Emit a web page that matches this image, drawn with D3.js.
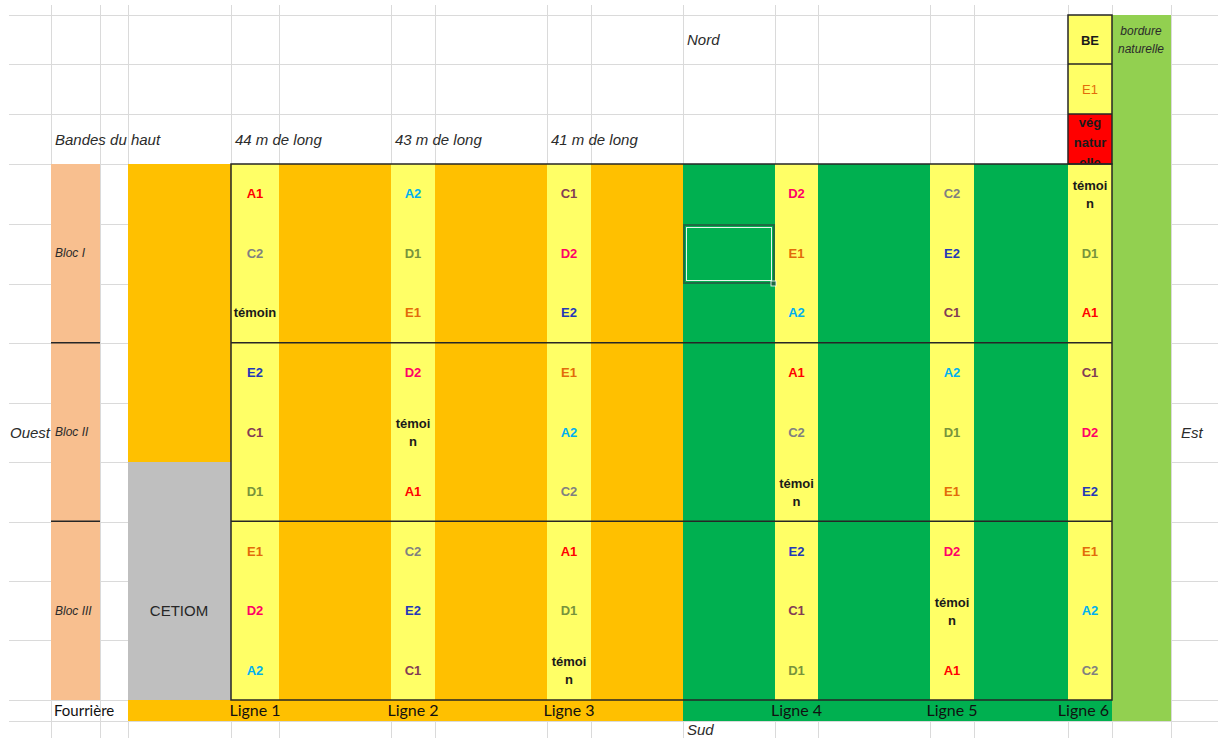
<!DOCTYPE html>
<html>
<head>
<meta charset="utf-8">
<script src="https://cdn.jsdelivr.net/npm/d3@7"></script>
<style>
  body { margin: 0; background: #fff; }
  svg { display: block; }
</style>
</head>
<body>
<div id="plan"></div>
<script>
// Data
const lignes = ["Ligne 1", "Ligne 2", "Ligne 3", "Ligne 4", "Ligne 5", "Ligne 6"]
const longueurs = ["44 m de long", "43 m de long", "41 m de long"]
const blocs = ["Bloc I", "Bloc II", "Bloc III"]
// 9 placettes par ligne, du nord au sud
const ligne1 = ["A1", "C2", "témoin", "E2", "C1", "D1", "E1", "D2", "A2"]
const ligne2 = ["A2", "D1", "E1", "D2", "témoin", "A1", "C2", "E2", "C1"]
const ligne3 = ["C1", "D2", "E2", "E1", "A2", "C2", "A1", "D1", "témoin"]
const ligne4 = ["D2", "E1", "A2", "A1", "C2", "témoin", "E2", "C1", "D1"]
const ligne5 = ["C2", "E2", "C1", "A2", "D1", "E1", "D2", "témoin", "A1"]
const ligne6 = ["témoin", "D1", "A1", "C1", "D2", "E2", "E1", "A2", "C2"]
const codes = ["A1", "A2", "C1", "C2", "D1", "D2", "E1", "E2", "témoin"]
const codeColors = ["#ff0000", "#00b0f0", "#833c55", "#808080", "#77933c", "#ff0066", "#e26b0a", "#2338b8", "#1a1a1a"]
const bordureEst = ["BE", "E1", "vég natur elle"]

const grid = [ligne1, ligne2, ligne3, ligne4, ligne5, ligne6]

// Layout (spreadsheet geometry)
const W = 1218, H = 738
const colEdges = [9, 51, 100, 128, 231, 279, 391, 435, 547, 591, 683, 775, 818, 930, 974, 1068, 1112, 1171]
const rowEdges = [15, 64, 114, 164, 224, 284, 343, 403, 462, 522, 581, 640, 700, 721]
const stripLeft = [231, 391, 547, 775, 930, 1068]
const stripRight = [279, 435, 591, 818, 974, 1112]

const x = d3.scaleOrdinal().domain(lignes).range(stripLeft)
const xEnd = d3.scaleOrdinal().domain(lignes).range(stripRight)
const y = d3.scaleBand().domain(d3.range(9)).range([164, 700])
const yBloc = d3.scaleBand().domain(blocs).range([164, 700])
const color = d3.scaleOrdinal().domain(codes).range(codeColors)

const svg = d3.select("#plan")
    .append("svg")
    .attr("width", W)
    .attr("height", H)

// Gridlines
const gridG = svg.append("g").attr("stroke", "#dadada").attr("stroke-width", 1)
gridG.selectAll("line.v")
    .data(colEdges.slice(1))
    .join("line")
    .attr("x1", d => d + 0.5).attr("x2", d => d + 0.5)
    .attr("y1", 5).attr("y2", H)
gridG.selectAll("line.h")
    .data(rowEdges)
    .join("line")
    .attr("x1", 9).attr("x2", W)
    .attr("y1", d => d + 0.5).attr("y2", d => d + 0.5)

const fills = svg.append("g")
function cell(x0, y0, x1, y1, fill) {
    return fills.append("rect")
        .attr("x", x0).attr("y", y0)
        .attr("width", x1 - x0).attr("height", y1 - y0)
        .attr("fill", fill)
}

// Blocs column, bande du haut, CETIOM
cell(51, 164, 100, 700, "#f8bf8f")
cell(128, 164, 231, 462, "#ffc000")
cell(128, 462, 231, 700, "#bfbfbf")

// Main plot
cell(231, 164, 683, 700, "#ffc000")
cell(683, 164, 1112, 700, "#00b050")
cell(128, 700, 683, 721, "#ffc000")
cell(683, 700, 1112, 721, "#00b050")
cell(1112, 15, 1171, 721, "#92d050")

lignes.forEach(l => cell(x(l), 164, xEnd(l), 700, "#ffff66"))

// Bordure est (haut de la ligne 6)
cell(1068, 15, 1112, 64, "#ffff66")
cell(1068, 64, 1112, 114, "#ffff66")
cell(1068, 114, 1112, 164, "#ff0000")

// Borders
const borders = svg.append("g").attr("stroke", "#262626").attr("fill", "none").attr("stroke-width", 1.5)
borders.append("rect").attr("x", 231).attr("y", 164).attr("width", 881).attr("height", 536)
borders.append("rect").attr("x", 1068).attr("y", 15).attr("width", 44).attr("height", 149)
borders.selectAll("line.tb")
    .data([64, 114])
    .join("line")
    .attr("x1", 1068).attr("x2", 1112)
    .attr("y1", d => d).attr("y2", d => d)
borders.selectAll("line.bloc")
    .data(blocs.slice(1))
    .join("line")
    .attr("x1", 231).attr("x2", 1112)
    .attr("y1", d => yBloc(d)).attr("y2", d => yBloc(d))
borders.selectAll("line.blocl")
    .data(blocs.slice(1))
    .join("line")
    .attr("x1", 51).attr("x2", 100)
    .attr("y1", d => yBloc(d)).attr("y2", d => yBloc(d))

// Selected cell (Excel)
svg.append("rect").attr("x", 684).attr("y", 225).attr("width", 90).attr("height", 58)
    .attr("fill", "none").attr("stroke", "#1e6b44").attr("stroke-width", 2)
svg.append("rect").attr("x", 686.5).attr("y", 227.5).attr("width", 85).attr("height", 53)
    .attr("fill", "none").attr("stroke", "#e8f5ec").attr("stroke-width", 1)
svg.append("rect").attr("x", 771).attr("y", 281).attr("width", 5).attr("height", 5)
    .attr("fill", "#1e6b44").attr("stroke", "#fff").attr("stroke-width", 0.8)

// Treatment labels
const labels = svg.append("g")
    .attr("font-family", "'Liberation Sans', Arial, sans-serif")
    .attr("font-weight", "bold")
    .attr("font-size", 13)
    .attr("text-anchor", "middle")

grid.forEach((col, i) => {
    const l = lignes[i]
    const cx = (x(l) + xEnd(l)) / 2
    const wide = xEnd(l) - x(l) > 46
    col.forEach((code, j) => {
        const cy = y(j) + y.bandwidth() / 2
        const t = labels.append("text")
            .attr("x", cx)
            .attr("fill", color(code))
        if (code === "témoin" && !wide) {
            t.attr("y", cy - 4)
            t.append("tspan").attr("x", cx).text("témoi")
            t.append("tspan").attr("x", cx).attr("dy", 18).text("n")
        } else {
            t.attr("y", cy + 4.5).text(code)
        }
    })
})

// Bordure est labels
labels.append("text").attr("x", 1090).attr("y", 45).attr("fill", "#1a1a1a").attr("font-size", 13).text(bordureEst[0])
labels.append("text").attr("x", 1090).attr("y", 94).attr("fill", color("E1")).attr("font-weight", "normal").attr("font-size", 13).text(bordureEst[1])

svg.append("clipPath").attr("id", "clipveg")
    .append("rect").attr("x", 1068).attr("y", 115).attr("width", 44).attr("height", 48)
const veg = labels.append("text")
    .attr("clip-path", "url(#clipveg)")
    .attr("fill", "#1a1a1a")
    .attr("font-size", 13)
    .attr("y", 127)
bordureEst[2].split(" ").forEach((w, k) => {
    veg.append("tspan").attr("x", 1090).attr("dy", k ? 20 : 0).text(w)
})

// Italic annotations
const ital = svg.append("g")
    .attr("font-family", "'Liberation Sans', Arial, sans-serif")
    .attr("font-style", "italic")
    .attr("font-size", 15)
    .attr("fill", "#2b2b2b")

ital.append("text").attr("x", 687).attr("y", 45).text("Nord")
ital.append("text").attr("x", 687).attr("y", 735).text("Sud")
ital.append("text").attr("x", 10).attr("y", 438).text("Ouest")
ital.append("text").attr("x", 1181).attr("y", 438).text("Est")
ital.append("text").attr("x", 55).attr("y", 145).text("Bandes du haut")
ital.selectAll("text.long")
    .data(longueurs)
    .join("text")
    .attr("x", (d, i) => x(lignes[i]) + 4)
    .attr("y", 145)
    .text(d => d)
ital.selectAll("text.bloc")
    .data(blocs)
    .join("text")
    .attr("x", 55)
    .attr("y", d => yBloc(d) + yBloc.bandwidth() / 2 + 4)
    .attr("font-size", 12)
    .text(d => d)
ital.append("text").attr("x", 1141).attr("y", 35).attr("font-size", 12).attr("text-anchor", "middle").text("bordure")
ital.append("text").attr("x", 1141).attr("y", 53).attr("font-size", 12).attr("text-anchor", "middle").text("naturelle")

svg.append("text")
    .attr("x", 179).attr("y", 616)
    .attr("text-anchor", "middle")
    .attr("font-family", "'Liberation Sans', Arial, sans-serif")
    .attr("font-size", 15)
    .attr("fill", "#262626")
    .text("CETIOM")

// Bottom row
const bottom = svg.append("g")
    .attr("font-family", "Lato, 'Open Sans', sans-serif")
    .attr("font-size", 16)
    .attr("fill", "#111")
bottom.append("text").attr("x", 54).attr("y", 716).attr("font-size", 15).text("Fourrière")
bottom.selectAll("text.ligne")
    .data(lignes)
    .join("text")
    .attr("x", (d, i) => i === lignes.length - 1 ? xEnd(d) - 3 : (x(d) + xEnd(d)) / 2)
    .attr("text-anchor", (d, i) => i === lignes.length - 1 ? "end" : "middle")
    .attr("y", 716)
    .text(d => d)
</script>
</body>
</html>
